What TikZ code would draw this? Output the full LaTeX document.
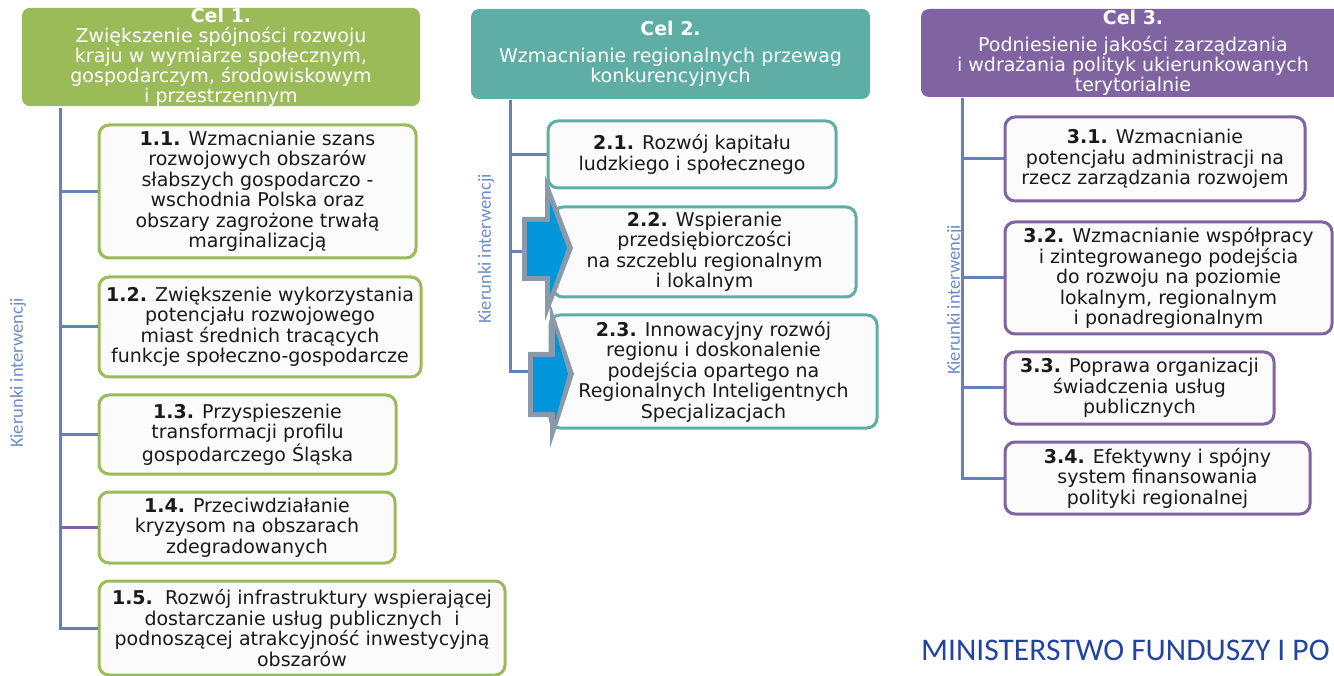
\documentclass[tikz,border=0pt]{standalone}
\usepackage{fontspec}
\setmainfont{DejaVu Sans}
\newfontfamily\carl{Carlito}
\definecolor{cgreen}{HTML}{9BBB59}
\definecolor{cteal}{HTML}{5FAEA5}
\definecolor{cpurple}{HTML}{8064A2}
\definecolor{ctrunk}{HTML}{6383B7}
\definecolor{ckier}{HTML}{6D8DC5}
\definecolor{carrowf}{HTML}{0096D9}
\definecolor{carrowb}{HTML}{8A9AAB}
\definecolor{cmin}{HTML}{2343A0}
\definecolor{cbox}{HTML}{FBFBFB}
\definecolor{ctext}{HTML}{1A1A1A}
\begin{document}
\begin{tikzpicture}[x=1pt,y=-1pt,
  hdr/.style={rounded corners=8pt, text=white, align=center, inner sep=0pt,
    font=\fontsize{19}{20}\selectfont},
  bx/.style={draw, line width=3pt, rounded corners=10pt, fill=cbox, align=center,
    inner sep=0pt, text=ctext, font=\fontsize{19}{20.5}\selectfont},
  trunk/.style={draw=ctrunk, line width=3pt},
  branchp/.style={draw=cpurple, line width=3pt},
  kier/.style={rotate=90, text=ckier, inner sep=0pt, font=\carl\fontsize{18.5}{20}\selectfont},
  arrowout/.style={fill=carrowb},
  arrowin/.style={fill=carrowf},
]
\useasboundingbox (0,0) rectangle (1334,676);
\clip (0,0) rectangle (1334,676);

% headers
\node[hdr, fill=cgreen, minimum width=398pt, minimum height=96pt] (h1) at (221,57)
  {\textbf{Cel 1.}\\Zwiększenie spójności rozwoju\\kraju w wymiarze społecznym,\\gospodarczym, środowiskowym\\i przestrzennym};
\node[hdr, fill=cteal, minimum width=399pt, minimum height=90pt] (h2) at (670.5,54)
  {\textbf{Cel 2.}\\[7pt]Wzmacnianie regionalnych przewag\\konkurencyjnych};
\node[hdr, fill=cpurple, minimum width=424pt, minimum height=88pt] (h3) at (1133,53)
  {\textbf{Cel 3.}\\[7pt]Podniesienie jakości zarządzania\\i wdrażania polityk ukierunkowanych\\terytorialnie};

% column 1 boxes
\node[bx, draw=cgreen, minimum width=317pt, minimum height=133pt] (b11) at (257.5,191.5)
  {\textbf{1.1.} Wzmacnianie szans\\rozwojowych obszarów\\słabszych gospodarczo -\\wschodnia Polska oraz\\obszary zagrożone trwałą\\marginalizacją};
\node[bx, draw=cgreen, minimum width=322pt, minimum height=100pt] (b12) at (260,327)
  {\textbf{1.2.} Zwiększenie wykorzystania\\potencjału rozwojowego\\miast średnich tracących\\funkcje społeczno-gospodarcze};
\node[bx, draw=cgreen, minimum width=297pt, minimum height=79pt] (b13) at (247.5,434.5)
  {\textbf{1.3.} Przyspieszenie\\transformacji profilu\\gospodarczego Śląska};
\node[bx, draw=cgreen, minimum width=296pt, minimum height=71pt] (b14) at (247,527.5)
  {\textbf{1.4.} Przeciwdziałanie\\kryzysom na obszarach\\zdegradowanych};
\node[bx, draw=cgreen, minimum width=406pt, minimum height=94pt] (b15) at (302,628)
  {\textbf{1.5.}\ \ Rozwój infrastruktury wspierającej\\dostarczanie usług publicznych\ \ i\\podnoszącej atrakcyjność inwestycyjną\\obszarów};

% column 2 boxes
\node[bx, draw=cteal, minimum width=288pt, minimum height=67pt] (b21) at (692,154.5)
  {\textbf{2.1.} Rozwój kapitału\\ludzkiego i społecznego};
\node[bx, draw=cteal, minimum width=303pt, minimum height=90pt] (b22) at (704.5,252)
  {\textbf{2.2.} Wspieranie\\przedsiębiorczości\\na szczeblu regionalnym\\i lokalnym};
\node[bx, draw=cteal, minimum width=327pt, minimum height=113pt] (b23) at (713.5,371.5)
  {\textbf{2.3.} Innowacyjny rozwój\\regionu i doskonalenie\\podejścia opartego na\\Regionalnych Inteligentnych\\Specjalizacjach};

% column 3 boxes
\node[bx, draw=cpurple, minimum width=300pt, minimum height=84pt] (b31) at (1155,159)
  {\textbf{3.1.} Wzmacnianie\\potencjału administracji na\\rzecz zarządzania rozwojem};
\node[bx, draw=cpurple, minimum width=327pt, minimum height=112pt] (b32) at (1168.5,278)
  {\textbf{3.2.} Wzmacnianie współpracy\\i zintegrowanego podejścia\\do rozwoju na poziomie\\lokalnym, regionalnym\\i ponadregionalnym};
\node[bx, draw=cpurple, minimum width=269pt, minimum height=72pt] (b33) at (1139.5,388)
  {\textbf{3.3.} Poprawa organizacji\\świadczenia usług\\publicznych};
\node[bx, draw=cpurple, minimum width=305pt, minimum height=72pt] (b34) at (1157.5,478)
  {\textbf{3.4.} Efektywny i spójny\\system finansowania\\polityki regionalnej};

% trunks
\coordinate (x1) at (60,0);
\coordinate (x2) at (510,0);
\coordinate (x3) at (962,0);
\draw[trunk] ([yshift=-2pt]h1.south -| x1) -- (b15.west -| x1) -- (b15.west);
\foreach \b in {b11,b12,b13} \draw[trunk] (\b.west -| x1) -- (\b.west);
\draw[branchp] (b14.west -| x1) -- (b14.west);
\draw[trunk] ([yshift=-1pt]h2.south -| x2) -- (b23.west -| x2) -- (b23.west);
\foreach \b in {b21,b22} \draw[trunk] (\b.west -| x2) -- (\b.west);
\draw[trunk] ([yshift=-1pt]h3.south -| x3) -- (b34.west -| x3) -- (b34.west);
\foreach \b in {b31,b32,b33} \draw[trunk] (\b.west -| x3) -- (\b.west);

% block arrows (gray outline, blue inside)
\fill[arrowout] (522,217) -- (545,217) -- (545,175) -- (573,248) -- (545,321) -- (545,281) -- (522,281) -- cycle;
\fill[arrowin] (527,222) -- (550,222) -- (550,202) -- (567,248) -- (550,295) -- (550,276) -- (527,276) -- cycle;
\fill[arrowout] (528,352) -- (550,352) -- (550,303) -- (574,374) -- (550,448) -- (550,417) -- (528,417) -- cycle;
\fill[arrowin] (533,357) -- (555,357) -- (555,329) -- (568,374) -- (555,421) -- (555,412) -- (533,412) -- cycle;

% side labels
\node[kier] (k1) at (18,373) {Kierunki interwencji};
\node[kier] (k2) at (486,249) {Kierunki interwencji};
\node[kier] (k3) at (955,300) {Kierunki interwencji};

% footer
\node[anchor=base west, inner sep=0pt, text=cmin, font=\carl\fontsize{31.5}{34}\selectfont] (min) at (921,660) {MINISTERSTWO FUNDUSZY I PO};
\end{tikzpicture}
\end{document}
